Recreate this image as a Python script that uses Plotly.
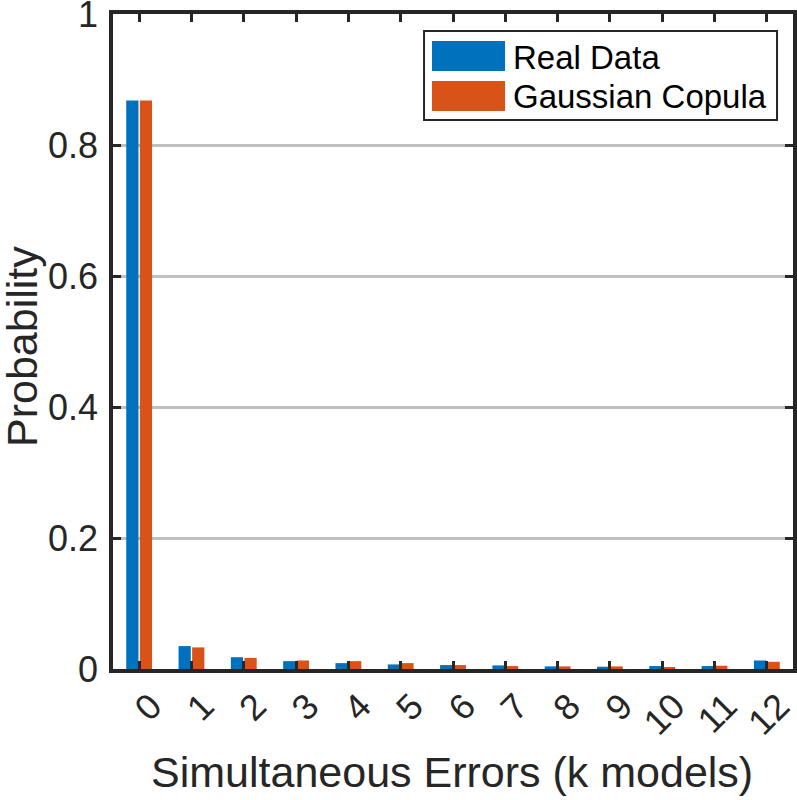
import plotly.graph_objects as go

k_labels = [str(i) for i in range(13)]
k_values = list(range(13))
real_data = [0.868, 0.035, 0.018, 0.012, 0.009, 0.007, 0.006, 0.0055, 0.004, 0.0035, 0.0045, 0.0045, 0.013]
gaussian_copula = [0.868, 0.033, 0.017, 0.013, 0.012, 0.009, 0.006, 0.0045, 0.004, 0.004, 0.003, 0.005, 0.011]
series_names = ["Real Data", "Gaussian Copula"]
series_colors = ["#0072BD", "#D95319"]

y_ticks = [0, 0.2, 0.4, 0.6, 0.8, 1]
y_tick_labels = ["0", "0.2", "0.4", "0.6", "0.8", "1"]

x_title = "Simultaneous Errors (k models)"
y_title = "Probability"

axis_col = "#262626"
font_fam = "Liberation Sans, Arial, sans-serif"

fig = go.Figure()
for name, vals, col in zip(series_names, [real_data, gaussian_copula], series_colors):
    fig.add_trace(go.Bar(x=k_values, y=vals, name=name,
                         marker=dict(color=col, line=dict(width=0))))

fig.update_layout(
    width=797, height=800,
    margin=dict(l=113, r=4, t=14, b=131),
    paper_bgcolor="white", plot_bgcolor="white",
    barmode="group", bargap=0.48, bargroupgap=0.1,
    font=dict(family=font_fam, color=axis_col, size=36),
    showlegend=False,
)
fig.update_xaxes(
    range=[-0.5, 12.5], tickmode="array", tickvals=k_values, ticktext=k_labels,
    tickangle=-45, ticks="inside", ticklen=8, tickwidth=3, tickcolor=axis_col,
    ticklabelshift=12, ticklabelstandoff=-2, ticklabeloverflow="allow",
    showline=True, linecolor=axis_col, linewidth=3.5, mirror="ticks",
    showgrid=False, zeroline=False, automargin=False,
    tickfont=dict(size=36, color=axis_col),
)
fig.update_yaxes(
    range=[0, 1], tickmode="array", tickvals=y_ticks, ticktext=y_tick_labels,
    ticks="inside", ticklen=8, tickwidth=3, tickcolor=axis_col,
    ticklabelstandoff=4, ticklabeloverflow="allow",
    showline=True, linecolor=axis_col, linewidth=3.5, mirror="ticks",
    showgrid=True, gridcolor="#c0c0c0", gridwidth=3, zeroline=False, automargin=False,
    tickfont=dict(size=36, color=axis_col),
)

# axis titles
fig.add_annotation(text=x_title, xref="paper", yref="paper", x=0.498, y=-0.157,
                   xanchor="center", yanchor="middle", showarrow=False,
                   font=dict(size=43, color=axis_col, family=font_fam))
fig.add_annotation(text=y_title, xref="paper", yref="paper", x=-0.134, y=0.493,
                   xanchor="center", yanchor="middle", showarrow=False, textangle=-90,
                   font=dict(size=43, color=axis_col, family=font_fam))

# legend box (MATLAB style, wide colour swatches)
fig.add_shape(type="rect", xref="paper", yref="paper", x0=0.4574, x1=0.9765, y0=0.8382, y1=0.9740,
              line=dict(color=axis_col, width=2), fillcolor="white", layer="above")
sw_y = [(0.9130, 0.9588), (0.8519, 0.8977)]
txt_y = [0.9336, 0.8733]
for name, col, (y0, y1), ty in zip(series_names, series_colors, sw_y, txt_y):
    fig.add_shape(type="rect", xref="paper", yref="paper", x0=0.4691, x1=0.5765, y0=y0, y1=y1,
                  line=dict(width=0), fillcolor=col, layer="above")
    fig.add_annotation(text=name, xref="paper", yref="paper", x=0.5853, y=ty,
                       xanchor="left", yanchor="middle", showarrow=False,
                       font=dict(size=33, color="black", family=font_fam))

# remove the default 8px page margin so the figure fills the window exactly
fig.write_html("out.html",
               config={"displayModeBar": False},
               post_script="document.body.style.margin='0';document.body.style.overflow='hidden';")
